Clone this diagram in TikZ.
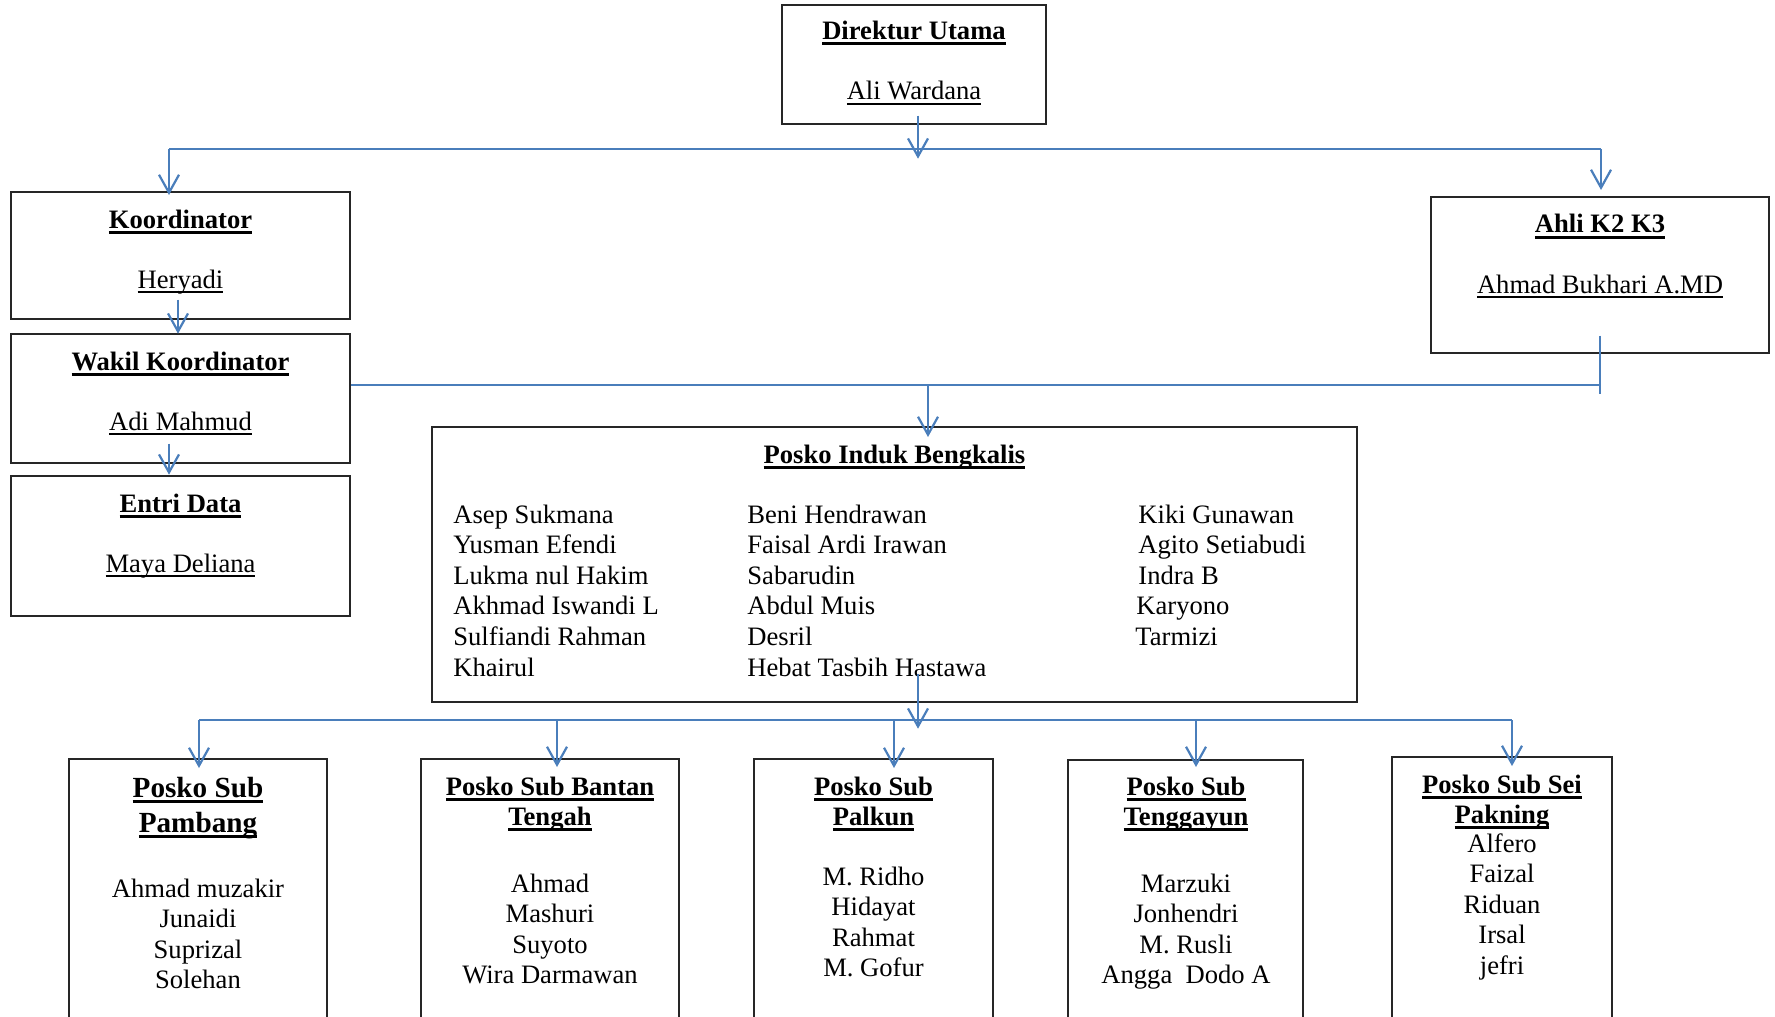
\documentclass[tikz,border=0pt]{standalone}
\usepackage{fontspec}
\setmainfont{Liberation Serif}
\usetikzlibrary{arrows.meta}
\definecolor{garis}{HTML}{4A7EBB}
\newcommand{\ulhead}[1]{\setbox0=\hbox{#1}\rlap{\rule[-2.8pt]{\wd0}{1.3pt}}\box0}
\newcommand{\ulname}[1]{\setbox0=\hbox{#1}\rlap{\rule[-2.5pt]{\wd0}{1pt}}\box0}

\begin{document}
\begin{tikzpicture}[x=0.5pt, y=-0.5pt]
		\tikzset{bx/.style={draw=black!85, line width=0.7pt, inner sep=0pt},
			hd/.style={font=\fontsize{13.3pt}{16pt}\selectfont\bfseries, anchor=base, inner sep=0pt},
			hdb/.style={hd, font=\fontsize{14.6pt}{17pt}\selectfont\bfseries},
			nm/.style={font=\fontsize{13.3pt}{16pt}\selectfont, anchor=base, inner sep=0pt},
			nl/.style={nm, anchor=base west},
			ln/.style={draw=garis, line width=1.1pt},
			ar/.style={ln, -{Straight Barb[length=9pt, width=10pt]}}};

		\useasboundingbox (0,0) rectangle (1775,1016);
		\clip (0,0) rectangle (1775,1016);

		\node[bx, minimum width=132pt, minimum height=59.5pt] (dir) at (914,64.5) {};
		\node[bx, minimum width=169.5pt, minimum height=63.5pt] (kor) at (180.5,255.5) {};
		\node[bx, minimum width=169.5pt, minimum height=64.5pt] (wak) at (180.5,398.5) {};
		\node[bx, minimum width=169.5pt, minimum height=70pt] (ent) at (180.5,546) {};
		\node[bx, minimum width=169pt, minimum height=78pt] (ahli) at (1600,275) {};
		\node[bx, minimum width=462.5pt, minimum height=137.5pt] (ind) at (894.5,564.5) {};
		\node[bx, minimum width=129pt, minimum height=140.5pt] (s1) at (198,899.5) {};
		\node[bx, minimum width=129pt, minimum height=140.5pt] (s2) at (550,899.5) {};
		\node[bx, minimum width=119.5pt, minimum height=140.5pt] (s3) at (873.5,899.5) {};
		\node[bx, minimum width=117.5pt, minimum height=140pt] (s4) at (1185.5,900) {};
		\node[bx, minimum width=110pt, minimum height=141.5pt] (s5) at (1502,898.5) {};

		\node[hd] (dirT) at (914,39.5) {\ulhead{Direktur Utama}};
		\node[nm] (dirN) at (914,100) {\ulname{Ali Wardana}};
		\node[hd] (korT) at (180.5,228) {\ulhead{Koordinator}};
		\node[nm] (korN) at (180.5,288) {\ulname{Heryadi}};
		\node[hd] (wakT) at (180.5,370) {\ulhead{Wakil Koordinator}};
		\node[nm] (wakN) at (180.5,430) {\ulname{Adi Mahmud}};
		\node[hd] (entT) at (180.5,512) {\ulhead{Entri Data}};
		\node[nm] (entN) at (180.5,572) {\ulname{Maya Deliana}};
		\node[hd] (ahliT) at (1600,233) {\ulhead{Ahli K2 K3}};
		\node[nm] (ahliN) at (1600,293) {\ulname{Ahmad Bukhari A.MD}};

		% posko induk
		\node[hd] (indT) at (894.5,463) {\ulhead{Posko Induk Bengkalis}};
		\node[nl] (a1) at (453,523) {Asep Sukmana};
		\node[nl] (a2) at (453,553.6) {Yusman Efendi};
		\node[nl] (a3) at (453,584.2) {Lukma nul Hakim};
		\node[nl] (a4) at (453,614.8) {Akhmad Iswandi L};
		\node[nl] (a5) at (453,645.4) {Sulfiandi Rahman};
		\node[nl] (a6) at (453,676) {Khairul};
		\node[nl] (b1) at (747,523) {Beni Hendrawan};
		\node[nl] (b2) at (747,553.6) {Faisal Ardi Irawan};
		\node[nl] (b3) at (747,584.2) {Sabarudin};
		\node[nl] (b4) at (747,614.8) {Abdul Muis};
		\node[nl] (b5) at (747,645.4) {Desril};
		\node[nl] (b6) at (747,676) {Hebat Tasbih Hastawa};
		\node[nl] (c1) at (1138,523) {Kiki Gunawan};
		\node[nl] (c2) at (1138,553.6) {Agito Setiabudi};
		\node[nl] (c3) at (1138,584.2) {Indra B};
		\node[nl] (c4) at (1136,614.8) {Karyono};
		\node[nl] (c5) at (1135,645.4) {Tarmizi};

		% posko sub
		\node[hdb] (s1T1) at (198,797) {\ulhead{Posko Sub}};
		\node[hdb] (s1T2) at (198,832) {\ulhead{Pambang}};
		\node[nm] (s1n1) at (198,897) {Ahmad muzakir};
		\node[nm] (s1n2) at (198,927.6) {Junaidi};
		\node[nm] (s1n3) at (198,958.2) {Suprizal};
		\node[nm] (s1n4) at (198,988.8) {Solehan};

		\node[hd] (s2T1) at (550,795) {\ulhead{Posko Sub Bantan}};
		\node[hd] (s2T2) at (550,825) {\ulhead{Tengah}};
		\node[nm] (s2n1) at (550,892) {Ahmad};
		\node[nm] (s2n2) at (550,922.6) {Mashuri};
		\node[nm] (s2n3) at (550,953.2) {Suyoto};
		\node[nm] (s2n4) at (550,983.8) {Wira Darmawan};

		\node[hd] (s3T1) at (873.5,795) {\ulhead{Posko Sub}};
		\node[hd] (s3T2) at (873.5,825) {\ulhead{Palkun}};
		\node[nm] (s3n1) at (873.5,885) {M. Ridho};
		\node[nm] (s3n2) at (873.5,915.6) {Hidayat};
		\node[nm] (s3n3) at (873.5,946.2) {Rahmat};
		\node[nm] (s3n4) at (873.5,976.8) {M. Gofur};

		\node[hd] (s4T1) at (1186,795) {\ulhead{Posko Sub}};
		\node[hd] (s4T2) at (1186,825) {\ulhead{Tenggayun}};
		\node[nm] (s4n1) at (1186,892) {Marzuki};
		\node[nm] (s4n2) at (1186,922.6) {Jonhendri};
		\node[nm] (s4n3) at (1186,953.2) {M. Rusli};
		\node[nm] (s4n4) at (1186,983.8) {Angga\ \ Dodo A};

		\node[hd] (s5T1) at (1502,793) {\ulhead{Posko Sub Sei}};
		\node[hd] (s5T2) at (1502,823) {\ulhead{Pakning}};
		\node[nm] (s5n1) at (1502,852) {Alfero};
		\node[nm] (s5n2) at (1502,882.6) {Faizal};
		\node[nm] (s5n3) at (1502,913.2) {Riduan};
		\node[nm] (s5n4) at (1502,943.8) {Irsal};
		\node[nm] (s5n5) at (1502,974.4) {jefri};

		% connectors
		\coordinate (t1) at (169,149);
		\coordinate (t2) at (1601,149);
		\coordinate (m1) at (928,385);
		\coordinate (m2) at (1601,385);
		\coordinate (u1) at (199,720);
		\coordinate (u2) at (557,720);
		\coordinate (u3) at (894,720);
		\coordinate (u4) at (1196,720);
		\coordinate (u5) at (1512,720);

		\draw[ln] (t1) -- (t2);
		\draw[ar] ([xshift=2pt]dir.south) ++(0,-9) -- ++(0,43);
		\draw[ar] (t1) -- ++(0,46);
		\draw[ar] (t2) -- ++(0,41);
		\draw[ar] ([xshift=-1.25pt]kor.south) ++(0,-20) -- ++(0,34);
		\draw[ar] ([xshift=-5.75pt]wak.south) ++(0,-20) -- ++(0,31);

		\draw[ln] ([yshift=6.75pt]wak.east) -- (m2);
		\draw[ln] ([yshift=9pt]ahli.south) -- ++(0,58);
		\draw[ar] (m1) -- ++(0,52);

		\draw[ln] (u1) -- (u5);
		\draw[ar] ([xshift=11.75pt]ind.south) ++(0,-29) -- ++(0,55);
		\draw[ar] (u1) -- ++(0,48);
		\draw[ar] (u2) -- ++(0,47);
		\draw[ar] (u3) -- ++(0,48);
		\draw[ar] (u4) -- ++(0,47);
		\draw[ar] (u5) -- ++(0,46);

	\end{tikzpicture}
\end{document}
